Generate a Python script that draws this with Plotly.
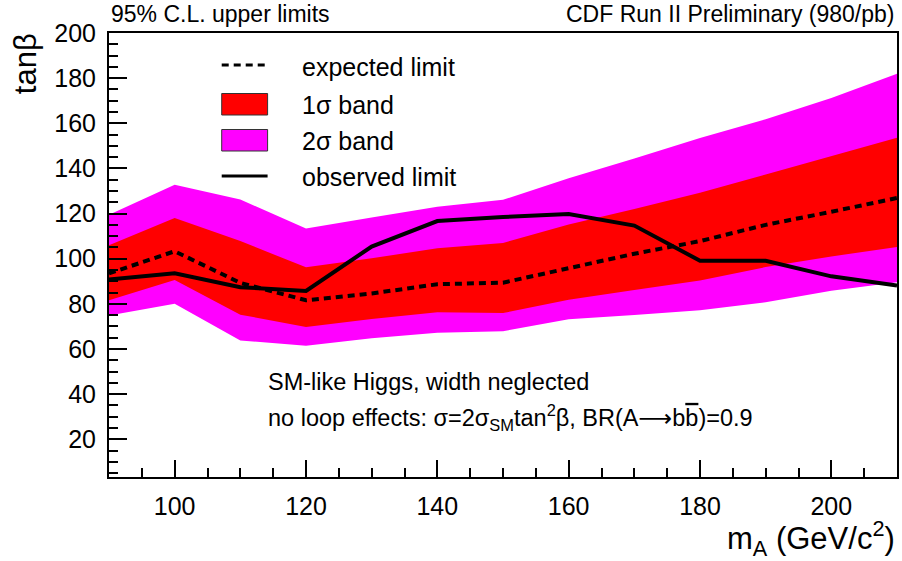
import plotly.graph_objects as go

# ---- data ----
mass = [90, 100, 110, 120, 130, 140, 150, 160, 170, 180, 190, 200, 210]
expected = [93.5, 103.3, 89.3, 81.6, 84.6, 88.7, 89.4, 95.8, 102.2, 107.8, 115.0, 120.8, 126.9]
observed = [90.8, 93.6, 87.4, 85.7, 105.4, 116.7, 118.5, 119.8, 114.7, 99.1, 99.1, 92.2, 88.1]
one_sigma_lo = [81.6, 90.6, 75.2, 69.8, 73.3, 76.3, 75.9, 81.8, 86.1, 90.3, 96.3, 101.0, 105.2]
one_sigma_hi = [106.0, 118.0, 107.8, 96.2, 100.2, 104.6, 107.0, 115.2, 122.0, 129.2, 137.3, 145.3, 153.6]
two_sigma_lo = [74.8, 80.0, 63.8, 61.5, 64.8, 67.2, 67.9, 73.2, 75.1, 77.2, 80.7, 85.8, 89.6]
two_sigma_hi = [119.5, 132.8, 126.2, 113.4, 118.3, 123.0, 126.1, 135.7, 144.4, 153.5, 161.8, 171.2, 182.0]

x_ticks = [100, 120, 140, 160, 180, 200]
y_ticks = [20, 40, 60, 80, 100, 120, 140, 160, 180, 200]

FONT = "Liberation Sans, Arial, Helvetica, sans-serif"
W, H = 902, 561
L, R, T, B = 109, 3, 33, 84
PW, PH = W - L - R, H - T - B


def px(x):
    return (x - L) / PW


def py(y):
    return (H - B - y) / PH


fig = go.Figure()
fig.add_trace(go.Scatter(x=mass, y=two_sigma_lo, mode="lines", line=dict(width=0),
                         showlegend=False, hoverinfo="skip"))
fig.add_trace(go.Scatter(x=mass, y=two_sigma_hi, mode="lines", line=dict(width=0),
                         fill="tonexty", fillcolor="#FF00FF", name="2σ band", showlegend=False))
fig.add_trace(go.Scatter(x=mass, y=one_sigma_lo, mode="lines", line=dict(width=0),
                         showlegend=False, hoverinfo="skip"))
fig.add_trace(go.Scatter(x=mass, y=one_sigma_hi, mode="lines", line=dict(width=0),
                         fill="tonexty", fillcolor="#FF0000", name="1σ band", showlegend=False))
fig.add_trace(go.Scatter(x=mass, y=expected, mode="lines",
                         line=dict(color="black", width=4, dash="7px,5px"),
                         name="expected limit", showlegend=False))
fig.add_trace(go.Scatter(x=mass, y=observed, mode="lines",
                         line=dict(color="black", width=4),
                         name="observed limit", showlegend=False))

axis_common = dict(
    showgrid=False, zeroline=False, showline=True, linecolor="black", linewidth=2,
    mirror=True, ticks="inside", tickcolor="black", tickwidth=2,
    tickfont=dict(family=FONT, size=25, color="black"),
)
fig.update_xaxes(range=[90, 210], tickvals=x_ticks, ticklen=17,
                 minor=dict(dtick=5, tick0=0, ticks="inside", ticklen=9, tickwidth=2, tickcolor="black"),
                 ticklabelstandoff=6, **axis_common)
fig.update_yaxes(range=[3.3, 200], tickvals=y_ticks, ticklen=18,
                 minor=dict(dtick=5, tick0=0, ticks="inside", ticklen=9, tickwidth=2, tickcolor="black"),
                 ticklabelstandoff=6, **axis_common)

shapes = [
    # legend samples
    dict(type="line", xref="paper", yref="paper", x0=px(222), x1=px(268), y0=py(65), y1=py(65),
         line=dict(color="black", width=3, dash="7px,5px")),
    dict(type="rect", xref="paper", yref="paper", x0=px(222), x1=px(268), y0=py(115), y1=py(93.5),
         fillcolor="#FF0000", line=dict(color="#333333", width=1)),
    dict(type="rect", xref="paper", yref="paper", x0=px(222), x1=px(268), y0=py(151), y1=py(129.5),
         fillcolor="#FF00FF", line=dict(color="#333333", width=1)),
    dict(type="line", xref="paper", yref="paper", x0=px(222), x1=px(268), y0=py(176), y1=py(176),
         line=dict(color="black", width=3)),
]

def ann(text, x, y, size, xanchor="left", yanchor="middle", angle=0):
    return dict(text=text, x=px(x), y=py(y), xref="paper", yref="paper", showarrow=False,
                xanchor=xanchor, yanchor=yanchor, textangle=angle,
                font=dict(family=FONT, size=size, color="black"))

annotations = [
    ann("expected limit", 300, 67, 25),
    ann("1σ band", 300, 105, 25),
    ann("2σ band", 300, 141, 25),
    ann("observed limit", 300, 177, 25),
    ann("95% C.L. upper limits", 109, 14, 23),
    ann("CDF Run II Preliminary (980/pb)", 899, 14, 23, xanchor="right"),
    ann("SM-like Higgs, width neglected", 266, 382, 23.5),
    ann("no loop effects: σ=2σ<sub>SM</sub>tan<sup>2</sup>β, BR(A<span style=\"font-family:DejaVu Sans\">⟶</span>b"
        "<span style=\"text-decoration:overline\">b</span>)=0.9",
        266, 417, 23.5),
    ann("tanβ", 26, 64, 31, xanchor="center", angle=-90),
    ann("m<sub>A</sub> (GeV/c<sup>2</sup>)", 899, 538, 31, xanchor="right"),
]

fig.update_layout(
    width=W, height=H, autosize=False,
    margin=dict(l=L, r=R, t=T, b=B, pad=0),
    paper_bgcolor="white", plot_bgcolor="white",
    shapes=shapes, annotations=annotations, showlegend=False,
    font=dict(family=FONT, color="black"),
)

fig.write_html("out.html")
